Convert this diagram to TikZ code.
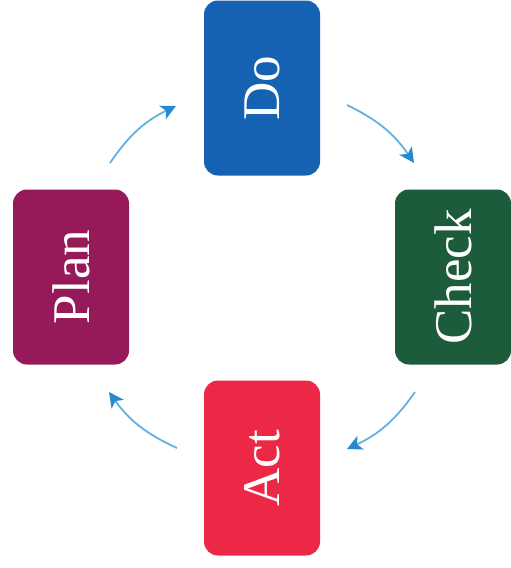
\documentclass[tikz,border=0pt]{standalone}
\usepackage{fontspec}
\setmainfont{Liberation Serif}
\usetikzlibrary{arrows.meta}
\definecolor{doblue}{RGB}{22,98,178}
\definecolor{checkgreen}{RGB}{28,92,58}
\definecolor{planmaroon}{RGB}{150,26,90}
\definecolor{actred}{RGB}{236,40,70}
\definecolor{arrline}{RGB}{100,176,224}
\definecolor{arrhead}{RGB}{40,138,206}
\tikzset{
  pdca/.style={rounded corners=14pt, minimum width=175pt, minimum height=116pt,
    rotate=90, text=white, font=\fontsize{53}{60}\selectfont, inner sep=0pt},
  cyc/.style={draw=arrline, line width=1.8pt, bend left=15,
    arrows={-Stealth[length=15pt, width=15pt, inset=4pt, arrhead]}}
}
\begin{document}
\begin{tikzpicture}[x=1pt,y=-1pt]
\useasboundingbox (0,0) rectangle (511,568);
\node[pdca, fill=doblue] (do) at (262,88) {Do};
\node[pdca, fill=checkgreen] (check) at (453,277) {Check};
\node[pdca, fill=planmaroon] (plan) at (71,277) {Plan};
\node[pdca, fill=actred] (act) at (262,468) {Act};
\coordinate (a1s) at (110,163);
\coordinate (a1e) at (176,106);
\coordinate (a2s) at (347,105);
\coordinate (a2e) at (414,163);
\coordinate (a3s) at (415,392);
\coordinate (a3e) at (347,449);
\coordinate (a4s) at (177,448);
\coordinate (a4e) at (109,392);
\draw[cyc] (a1s) to (a1e);
\draw[cyc] (a2s) to (a2e);
\draw[cyc] (a3s) to (a3e);
\draw[cyc] (a4s) to (a4e);
\end{tikzpicture}
\end{document}
